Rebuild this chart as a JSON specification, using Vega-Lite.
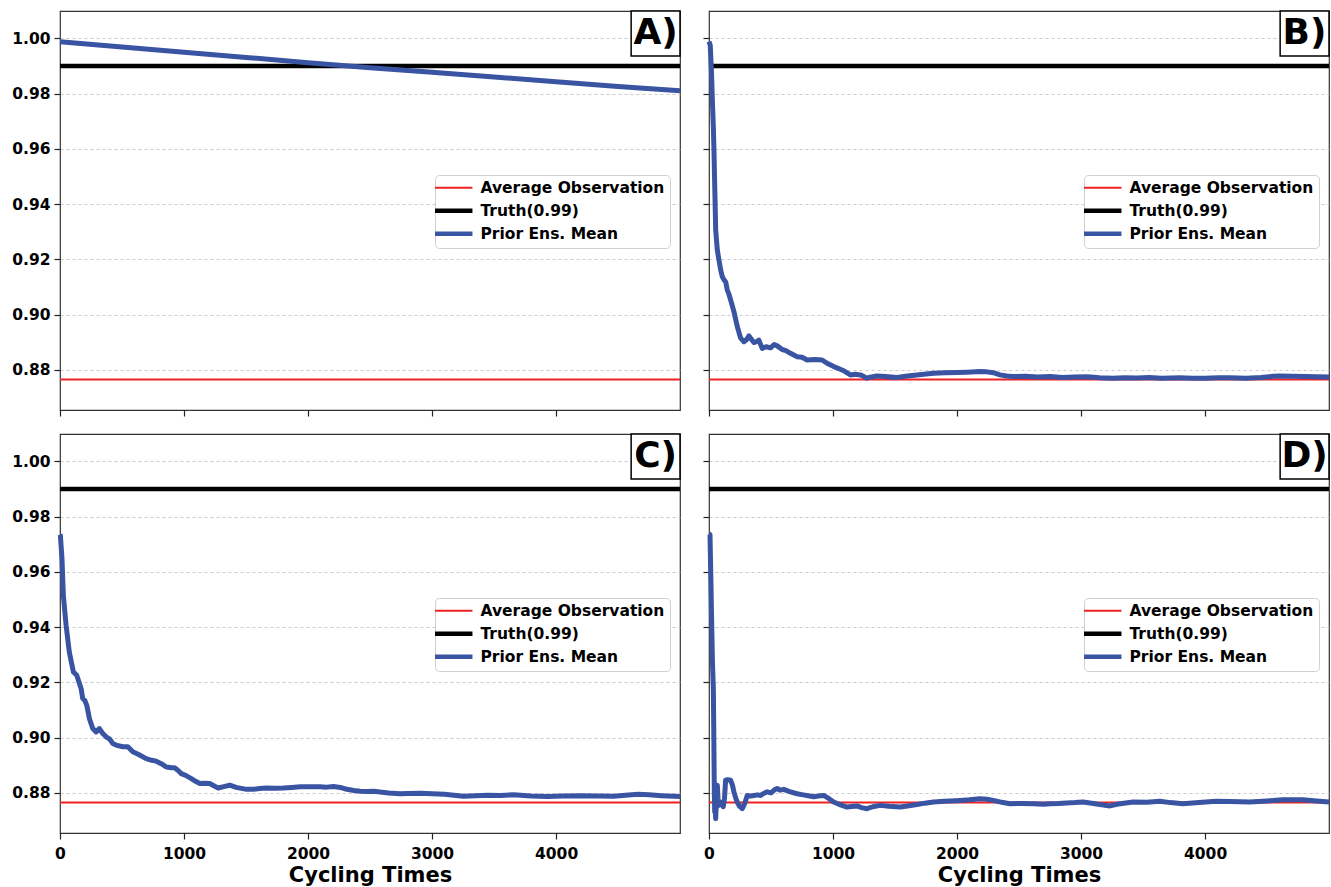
{
  "$schema": "https://vega.github.io/schema/vega-lite/v6.json",
  "padding": {"left": 11, "top": 9, "right": 3, "bottom": 0},
  "background": "#ffffff",
  "config": {
    "font": "DejaVu Sans",
    "view": {"stroke": "#333333", "strokeWidth": 1.2},
    "axis": {
      "labelFont": "DejaVu Sans", "labelFontWeight": "bold", "labelFontSize": 15.5, "labelColor": "#000000",
      "tickColor": "#222222", "tickSize": 6, "tickWidth": 1.2, "domain": false, "labelPadding": 4,
      "titleFont": "DejaVu Sans", "titleFontWeight": "bold", "titleFontSize": 21, "titleColor": "#000000"
    },
    "axisY": {"grid": true, "gridDash": [3, 3], "gridColor": "#bdbdbd", "gridWidth": 0.8},
    "axisX": {"grid": false, "titlePadding": 3, "labelPadding": 7, "labelFlush": false},
    "legend": {"labelLimit": 400}
  },
  "datasets": {
    "refs": [
      {"series": "Average Observation", "v": 0.8765},
      {"series": "Truth(0.99)", "v": 0.99}
    ],
    "lines": [
      {"panel": "A", "t": 0, "v": 0.9988}, {"panel": "A", "t": 500, "v": 0.99685}, {"panel": "A", "t": 1000, "v": 0.995}, {"panel": "A", "t": 1500, "v": 0.9931}, {"panel": "A", "t": 2000, "v": 0.9912}, {"panel": "A", "t": 2500, "v": 0.9894}, {"panel": "A", "t": 3000, "v": 0.9877}, {"panel": "A", "t": 3500, "v": 0.986}, {"panel": "A", "t": 4000, "v": 0.9843}, {"panel": "A", "t": 4500, "v": 0.9826}, {"panel": "A", "t": 4999, "v": 0.981},

      {"panel": "B", "t": 0, "v": 0.9988}, {"panel": "B", "t": 10, "v": 0.9975}, {"panel": "B", "t": 20, "v": 0.988}, {"panel": "B", "t": 27, "v": 0.9777}, {"panel": "B", "t": 35, "v": 0.968}, {"panel": "B", "t": 40, "v": 0.9596}, {"panel": "B", "t": 47, "v": 0.945}, {"panel": "B", "t": 54, "v": 0.9306}, {"panel": "B", "t": 67, "v": 0.9234}, {"panel": "B", "t": 80, "v": 0.9198}, {"panel": "B", "t": 94, "v": 0.9162}, {"panel": "B", "t": 107, "v": 0.9138}, {"panel": "B", "t": 121, "v": 0.9126}, {"panel": "B", "t": 135, "v": 0.9118}, {"panel": "B", "t": 147, "v": 0.909}, {"panel": "B", "t": 160, "v": 0.9075}, {"panel": "B", "t": 174, "v": 0.9054}, {"panel": "B", "t": 201, "v": 0.9011}, {"panel": "B", "t": 228, "v": 0.8957}, {"panel": "B", "t": 255, "v": 0.8915}, {"panel": "B", "t": 282, "v": 0.8902}, {"panel": "B", "t": 300, "v": 0.8908}, {"panel": "B", "t": 322, "v": 0.8923}, {"panel": "B", "t": 340, "v": 0.8912}, {"panel": "B", "t": 362, "v": 0.8899}, {"panel": "B", "t": 385, "v": 0.8903}, {"panel": "B", "t": 402, "v": 0.8908}, {"panel": "B", "t": 429, "v": 0.8878}, {"panel": "B", "t": 460, "v": 0.8884}, {"panel": "B", "t": 496, "v": 0.888}, {"panel": "B", "t": 525, "v": 0.8892}, {"panel": "B", "t": 550, "v": 0.8887}, {"panel": "B", "t": 590, "v": 0.8874}, {"panel": "B", "t": 620, "v": 0.8870}, {"panel": "B", "t": 657, "v": 0.886}, {"panel": "B", "t": 711, "v": 0.8848}, {"panel": "B", "t": 750, "v": 0.8846}, {"panel": "B", "t": 791, "v": 0.8836}, {"panel": "B", "t": 850, "v": 0.8838}, {"panel": "B", "t": 912, "v": 0.8836}, {"panel": "B", "t": 960, "v": 0.8822}, {"panel": "B", "t": 1006, "v": 0.8812}, {"panel": "B", "t": 1040, "v": 0.8806}, {"panel": "B", "t": 1086, "v": 0.8797}, {"panel": "B", "t": 1110, "v": 0.879}, {"panel": "B", "t": 1140, "v": 0.8782}, {"panel": "B", "t": 1180, "v": 0.8784}, {"panel": "B", "t": 1220, "v": 0.8782}, {"panel": "B", "t": 1250, "v": 0.8776}, {"panel": "B", "t": 1274, "v": 0.877}, {"panel": "B", "t": 1300, "v": 0.8774}, {"panel": "B", "t": 1354, "v": 0.8778}, {"panel": "B", "t": 1420, "v": 0.8776}, {"panel": "B", "t": 1515, "v": 0.8773}, {"panel": "B", "t": 1600, "v": 0.8778}, {"panel": "B", "t": 1676, "v": 0.8782}, {"panel": "B", "t": 1750, "v": 0.8785}, {"panel": "B", "t": 1810, "v": 0.8788}, {"panel": "B", "t": 1900, "v": 0.879}, {"panel": "B", "t": 2000, "v": 0.8791}, {"panel": "B", "t": 2078, "v": 0.8792}, {"panel": "B", "t": 2185, "v": 0.8794}, {"panel": "B", "t": 2240, "v": 0.8793}, {"panel": "B", "t": 2293, "v": 0.879}, {"panel": "B", "t": 2346, "v": 0.8782}, {"panel": "B", "t": 2400, "v": 0.8778}, {"panel": "B", "t": 2454, "v": 0.8776}, {"panel": "B", "t": 2550, "v": 0.8777}, {"panel": "B", "t": 2650, "v": 0.8774}, {"panel": "B", "t": 2750, "v": 0.8776}, {"panel": "B", "t": 2850, "v": 0.8773}, {"panel": "B", "t": 2950, "v": 0.8774}, {"panel": "B", "t": 3050, "v": 0.8775}, {"panel": "B", "t": 3150, "v": 0.8772}, {"panel": "B", "t": 3256, "v": 0.877}, {"panel": "B", "t": 3350, "v": 0.8772}, {"panel": "B", "t": 3450, "v": 0.8771}, {"panel": "B", "t": 3550, "v": 0.8773}, {"panel": "B", "t": 3650, "v": 0.877}, {"panel": "B", "t": 3793, "v": 0.8772}, {"panel": "B", "t": 3900, "v": 0.877}, {"panel": "B", "t": 4000, "v": 0.877}, {"panel": "B", "t": 4100, "v": 0.8772}, {"panel": "B", "t": 4200, "v": 0.8772}, {"panel": "B", "t": 4330, "v": 0.877}, {"panel": "B", "t": 4450, "v": 0.8773}, {"panel": "B", "t": 4550, "v": 0.8777}, {"panel": "B", "t": 4598, "v": 0.8778}, {"panel": "B", "t": 4700, "v": 0.8777}, {"panel": "B", "t": 4800, "v": 0.8776}, {"panel": "B", "t": 4900, "v": 0.8775}, {"panel": "B", "t": 4999, "v": 0.8774},

      {"panel": "C", "t": 0, "v": 0.9735}, {"panel": "C", "t": 3, "v": 0.9732}, {"panel": "C", "t": 16, "v": 0.9648}, {"panel": "C", "t": 27, "v": 0.9515}, {"panel": "C", "t": 49, "v": 0.9407}, {"panel": "C", "t": 75, "v": 0.931}, {"panel": "C", "t": 108, "v": 0.9238}, {"panel": "C", "t": 135, "v": 0.9226}, {"panel": "C", "t": 150, "v": 0.9205}, {"panel": "C", "t": 170, "v": 0.9178}, {"panel": "C", "t": 183, "v": 0.9142}, {"panel": "C", "t": 200, "v": 0.9135}, {"panel": "C", "t": 216, "v": 0.9117}, {"panel": "C", "t": 237, "v": 0.9069}, {"panel": "C", "t": 264, "v": 0.9033}, {"panel": "C", "t": 291, "v": 0.9021}, {"panel": "C", "t": 318, "v": 0.9033}, {"panel": "C", "t": 345, "v": 0.9015}, {"panel": "C", "t": 372, "v": 0.9003}, {"panel": "C", "t": 400, "v": 0.8995}, {"panel": "C", "t": 426, "v": 0.8979}, {"panel": "C", "t": 460, "v": 0.8972}, {"panel": "C", "t": 507, "v": 0.8967}, {"panel": "C", "t": 547, "v": 0.8967}, {"panel": "C", "t": 587, "v": 0.8949}, {"panel": "C", "t": 630, "v": 0.894}, {"panel": "C", "t": 695, "v": 0.8924}, {"panel": "C", "t": 740, "v": 0.8918}, {"panel": "C", "t": 776, "v": 0.8915}, {"panel": "C", "t": 820, "v": 0.8905}, {"panel": "C", "t": 857, "v": 0.8894}, {"panel": "C", "t": 900, "v": 0.8891}, {"panel": "C", "t": 924, "v": 0.8891}, {"panel": "C", "t": 950, "v": 0.8882}, {"panel": "C", "t": 978, "v": 0.887}, {"panel": "C", "t": 1020, "v": 0.8862}, {"panel": "C", "t": 1059, "v": 0.8852}, {"panel": "C", "t": 1090, "v": 0.8843}, {"panel": "C", "t": 1127, "v": 0.8834}, {"panel": "C", "t": 1170, "v": 0.8835}, {"panel": "C", "t": 1207, "v": 0.8834}, {"panel": "C", "t": 1240, "v": 0.8826}, {"panel": "C", "t": 1275, "v": 0.8818}, {"panel": "C", "t": 1320, "v": 0.8823}, {"panel": "C", "t": 1369, "v": 0.8828}, {"panel": "C", "t": 1420, "v": 0.882}, {"panel": "C", "t": 1504, "v": 0.8813}, {"panel": "C", "t": 1558, "v": 0.8813}, {"panel": "C", "t": 1610, "v": 0.8816}, {"panel": "C", "t": 1665, "v": 0.8818}, {"panel": "C", "t": 1730, "v": 0.8817}, {"panel": "C", "t": 1800, "v": 0.8818}, {"panel": "C", "t": 1870, "v": 0.882}, {"panel": "C", "t": 1935, "v": 0.8822}, {"panel": "C", "t": 2000, "v": 0.8822}, {"panel": "C", "t": 2097, "v": 0.8822}, {"panel": "C", "t": 2150, "v": 0.8821}, {"panel": "C", "t": 2205, "v": 0.8823}, {"panel": "C", "t": 2260, "v": 0.882}, {"panel": "C", "t": 2313, "v": 0.8813}, {"panel": "C", "t": 2370, "v": 0.8809}, {"panel": "C", "t": 2421, "v": 0.8806}, {"panel": "C", "t": 2480, "v": 0.8805}, {"panel": "C", "t": 2528, "v": 0.8806}, {"panel": "C", "t": 2581, "v": 0.8803}, {"panel": "C", "t": 2650, "v": 0.88}, {"panel": "C", "t": 2744, "v": 0.8797}, {"panel": "C", "t": 2800, "v": 0.8798}, {"panel": "C", "t": 2904, "v": 0.8799}, {"panel": "C", "t": 3000, "v": 0.8797}, {"panel": "C", "t": 3100, "v": 0.8795}, {"panel": "C", "t": 3253, "v": 0.8788}, {"panel": "C", "t": 3350, "v": 0.879}, {"panel": "C", "t": 3450, "v": 0.8792}, {"panel": "C", "t": 3550, "v": 0.8791}, {"panel": "C", "t": 3656, "v": 0.8793}, {"panel": "C", "t": 3800, "v": 0.8789}, {"panel": "C", "t": 3930, "v": 0.8787}, {"panel": "C", "t": 4050, "v": 0.8789}, {"panel": "C", "t": 4200, "v": 0.879}, {"panel": "C", "t": 4350, "v": 0.8789}, {"panel": "C", "t": 4465, "v": 0.8788}, {"panel": "C", "t": 4560, "v": 0.8792}, {"panel": "C", "t": 4659, "v": 0.8795}, {"panel": "C", "t": 4750, "v": 0.8793}, {"panel": "C", "t": 4850, "v": 0.879}, {"panel": "C", "t": 4999, "v": 0.8787},

      {"panel": "D", "t": 0, "v": 0.9738}, {"panel": "D", "t": 8, "v": 0.9735}, {"panel": "D", "t": 14, "v": 0.96}, {"panel": "D", "t": 21, "v": 0.9431}, {"panel": "D", "t": 28, "v": 0.927}, {"panel": "D", "t": 35, "v": 0.9178}, {"panel": "D", "t": 38, "v": 0.905}, {"panel": "D", "t": 40, "v": 0.8948}, {"panel": "D", "t": 43, "v": 0.88}, {"panel": "D", "t": 46, "v": 0.8731}, {"panel": "D", "t": 50, "v": 0.8765}, {"panel": "D", "t": 54, "v": 0.8707}, {"panel": "D", "t": 58, "v": 0.875}, {"panel": "D", "t": 62, "v": 0.879}, {"panel": "D", "t": 67, "v": 0.8828}, {"panel": "D", "t": 73, "v": 0.878}, {"panel": "D", "t": 80, "v": 0.8755}, {"panel": "D", "t": 90, "v": 0.876}, {"panel": "D", "t": 100, "v": 0.8765}, {"panel": "D", "t": 107, "v": 0.8767}, {"panel": "D", "t": 115, "v": 0.875}, {"panel": "D", "t": 125, "v": 0.878}, {"panel": "D", "t": 134, "v": 0.8846}, {"panel": "D", "t": 150, "v": 0.8848}, {"panel": "D", "t": 174, "v": 0.8846}, {"panel": "D", "t": 188, "v": 0.883}, {"panel": "D", "t": 201, "v": 0.8804}, {"panel": "D", "t": 215, "v": 0.8782}, {"panel": "D", "t": 228, "v": 0.8767}, {"panel": "D", "t": 245, "v": 0.8752}, {"panel": "D", "t": 268, "v": 0.8743}, {"panel": "D", "t": 288, "v": 0.8762}, {"panel": "D", "t": 308, "v": 0.8791}, {"panel": "D", "t": 335, "v": 0.8789}, {"panel": "D", "t": 362, "v": 0.8791}, {"panel": "D", "t": 390, "v": 0.8793}, {"panel": "D", "t": 416, "v": 0.8791}, {"panel": "D", "t": 440, "v": 0.8798}, {"panel": "D", "t": 469, "v": 0.8804}, {"panel": "D", "t": 500, "v": 0.88}, {"panel": "D", "t": 530, "v": 0.8812}, {"panel": "D", "t": 550, "v": 0.8816}, {"panel": "D", "t": 575, "v": 0.881}, {"panel": "D", "t": 603, "v": 0.8813}, {"panel": "D", "t": 650, "v": 0.8805}, {"panel": "D", "t": 710, "v": 0.8797}, {"panel": "D", "t": 760, "v": 0.8793}, {"panel": "D", "t": 800, "v": 0.879}, {"panel": "D", "t": 845, "v": 0.8786}, {"panel": "D", "t": 880, "v": 0.8789}, {"panel": "D", "t": 925, "v": 0.8791}, {"panel": "D", "t": 965, "v": 0.878}, {"panel": "D", "t": 1005, "v": 0.8767}, {"panel": "D", "t": 1060, "v": 0.8757}, {"panel": "D", "t": 1113, "v": 0.8749}, {"panel": "D", "t": 1150, "v": 0.8751}, {"panel": "D", "t": 1193, "v": 0.8753}, {"panel": "D", "t": 1230, "v": 0.8747}, {"panel": "D", "t": 1274, "v": 0.8743}, {"panel": "D", "t": 1320, "v": 0.875}, {"panel": "D", "t": 1381, "v": 0.8755}, {"panel": "D", "t": 1450, "v": 0.8752}, {"panel": "D", "t": 1542, "v": 0.8749}, {"panel": "D", "t": 1600, "v": 0.8753}, {"panel": "D", "t": 1676, "v": 0.8758}, {"panel": "D", "t": 1740, "v": 0.8763}, {"panel": "D", "t": 1810, "v": 0.8767}, {"panel": "D", "t": 1900, "v": 0.877}, {"panel": "D", "t": 2024, "v": 0.8773}, {"panel": "D", "t": 2100, "v": 0.8775}, {"panel": "D", "t": 2185, "v": 0.8779}, {"panel": "D", "t": 2240, "v": 0.8777}, {"panel": "D", "t": 2293, "v": 0.8773}, {"panel": "D", "t": 2360, "v": 0.8766}, {"panel": "D", "t": 2427, "v": 0.8761}, {"panel": "D", "t": 2520, "v": 0.8762}, {"panel": "D", "t": 2614, "v": 0.8761}, {"panel": "D", "t": 2700, "v": 0.8759}, {"panel": "D", "t": 2749, "v": 0.8761}, {"panel": "D", "t": 2820, "v": 0.8762}, {"panel": "D", "t": 2882, "v": 0.8764}, {"panel": "D", "t": 2950, "v": 0.8765}, {"panel": "D", "t": 3017, "v": 0.8767}, {"panel": "D", "t": 3100, "v": 0.8762}, {"panel": "D", "t": 3180, "v": 0.8756}, {"panel": "D", "t": 3232, "v": 0.8753}, {"panel": "D", "t": 3300, "v": 0.876}, {"panel": "D", "t": 3420, "v": 0.8767}, {"panel": "D", "t": 3530, "v": 0.8766}, {"panel": "D", "t": 3634, "v": 0.877}, {"panel": "D", "t": 3720, "v": 0.8765}, {"panel": "D", "t": 3821, "v": 0.8761}, {"panel": "D", "t": 3950, "v": 0.8765}, {"panel": "D", "t": 4090, "v": 0.877}, {"panel": "D", "t": 4200, "v": 0.8769}, {"panel": "D", "t": 4358, "v": 0.8767}, {"panel": "D", "t": 4500, "v": 0.8771}, {"panel": "D", "t": 4626, "v": 0.8775}, {"panel": "D", "t": 4787, "v": 0.8775}, {"panel": "D", "t": 4900, "v": 0.8771}, {"panel": "D", "t": 4999, "v": 0.8767}
    ]
  },
  "columns": 2,
  "spacing": {"row": 14, "column": 17},
  "resolve": {
    "scale": {"color": "independent", "x": "independent", "y": "independent"},
    "legend": {"color": "independent"}
  },
  "concat": [
    {
      "width": 620, "height": 399,
      "layer": [
        {"data": {"name": "refs"}, "mark": {"type": "rule"},
         "encoding": {
           "y": {"field": "v", "type": "quantitative", "scale": {"domain": [0.8655, 1.0099], "nice": false, "zero": false}, "axis": {"title": null, "values": [0.88, 0.9, 0.92, 0.94, 0.96, 0.98, 1.0], "format": ".2f", "labels": true}},
           "color": {"field": "series", "type": "nominal", "scale": {"domain": ["Average Observation", "Truth(0.99)", "Prior Ens. Mean"], "range": ["#ee2222", "#000000", "#3a54a4"]},
             "legend": {"title": null, "orient": "none", "legendX": 375, "legendY": 164, "symbolType": "stroke", "symbolSize": 1400, "symbolStrokeWidth": 4.5, "symbolOffset": 6, "labelFontSize": 15.5, "labelFont": "DejaVu Sans", "labelFontWeight": "bold", "labelColor": "#000000", "labelLimit": 400, "fillColor": "#ffffff", "strokeColor": "#d0d0d0", "cornerRadius": 4, "padding": 5, "rowPadding": 4, "labelOffset": 19,
               "encode": {"symbols": {"update": {"strokeWidth": {"signal": "datum.value === 'Average Observation' ? 2 : 4.5"}}}}}},
           "strokeWidth": {"condition": {"test": "datum.series === 'Truth(0.99)'", "value": 4.5}, "value": 2}
         }},
        {"data": {"name": "lines"}, "transform": [{"filter": "datum.panel === 'A'"}],
         "mark": {"type": "line", "strokeWidth": 5, "strokeJoin": "round"},
         "encoding": {
           "x": {"field": "t", "type": "quantitative", "scale": {"domain": [0, 4999], "nice": false, "zero": false}, "axis": {"title": null, "values": [0, 1000, 2000, 3000, 4000], "labels": false}},
           "y": {"field": "v", "type": "quantitative"},
           "color": {"datum": "Prior Ens. Mean", "type": "nominal"}
         }},
        {"data": {"values": [{"label": "A)"}]}, "mark": {"type": "rect", "fill": "#ffffff", "stroke": "#000000", "strokeWidth": 1.5},
         "encoding": {"x": {"datum": 4605}, "x2": {"datum": 4999}, "y": {"datum": 0.9936}, "y2": {"datum": 1.0099}}},
        {"data": {"values": [{"label": "A)"}]}, "mark": {"type": "text", "fontSize": 36, "fontWeight": "bold", "font": "DejaVu Sans", "align": "center", "baseline": "middle", "color": "#000000"},
         "encoding": {"x": {"datum": 4802}, "y": {"datum": 1.0018}, "text": {"field": "label"}}}
      ]
    },
    {
      "width": 620, "height": 399,
      "layer": [
        {"data": {"name": "refs"}, "mark": {"type": "rule"},
         "encoding": {
           "y": {"field": "v", "type": "quantitative", "scale": {"domain": [0.8655, 1.0099], "nice": false, "zero": false}, "axis": {"title": null, "values": [0.88, 0.9, 0.92, 0.94, 0.96, 0.98, 1.0], "format": ".2f", "labels": false}},
           "color": {"field": "series", "type": "nominal", "scale": {"domain": ["Average Observation", "Truth(0.99)", "Prior Ens. Mean"], "range": ["#ee2222", "#000000", "#3a54a4"]},
             "legend": {"title": null, "orient": "none", "legendX": 375, "legendY": 164, "symbolType": "stroke", "symbolSize": 1400, "symbolStrokeWidth": 4.5, "symbolOffset": 6, "labelFontSize": 15.5, "labelFont": "DejaVu Sans", "labelFontWeight": "bold", "labelColor": "#000000", "labelLimit": 400, "fillColor": "#ffffff", "strokeColor": "#d0d0d0", "cornerRadius": 4, "padding": 5, "rowPadding": 4, "labelOffset": 19,
               "encode": {"symbols": {"update": {"strokeWidth": {"signal": "datum.value === 'Average Observation' ? 2 : 4.5"}}}}}},
           "strokeWidth": {"condition": {"test": "datum.series === 'Truth(0.99)'", "value": 4.5}, "value": 2}
         }},
        {"data": {"name": "lines"}, "transform": [{"filter": "datum.panel === 'B'"}],
         "mark": {"type": "line", "strokeWidth": 5, "strokeJoin": "round"},
         "encoding": {
           "x": {"field": "t", "type": "quantitative", "scale": {"domain": [0, 4999], "nice": false, "zero": false}, "axis": {"title": null, "values": [0, 1000, 2000, 3000, 4000], "labels": false}},
           "y": {"field": "v", "type": "quantitative"},
           "color": {"datum": "Prior Ens. Mean", "type": "nominal"}
         }},
        {"data": {"values": [{"label": "B)"}]}, "mark": {"type": "rect", "fill": "#ffffff", "stroke": "#000000", "strokeWidth": 1.5},
         "encoding": {"x": {"datum": 4605}, "x2": {"datum": 4999}, "y": {"datum": 0.9936}, "y2": {"datum": 1.0099}}},
        {"data": {"values": [{"label": "B)"}]}, "mark": {"type": "text", "fontSize": 36, "fontWeight": "bold", "font": "DejaVu Sans", "align": "center", "baseline": "middle", "color": "#000000"},
         "encoding": {"x": {"datum": 4802}, "y": {"datum": 1.0018}, "text": {"field": "label"}}}
      ]
    },
    {
      "width": 620, "height": 399,
      "layer": [
        {"data": {"name": "refs"}, "mark": {"type": "rule"},
         "encoding": {
           "y": {"field": "v", "type": "quantitative", "scale": {"domain": [0.8655, 1.0099], "nice": false, "zero": false}, "axis": {"title": null, "values": [0.88, 0.9, 0.92, 0.94, 0.96, 0.98, 1.0], "format": ".2f", "labels": true}},
           "color": {"field": "series", "type": "nominal", "scale": {"domain": ["Average Observation", "Truth(0.99)", "Prior Ens. Mean"], "range": ["#ee2222", "#000000", "#3a54a4"]},
             "legend": {"title": null, "orient": "none", "legendX": 375, "legendY": 164, "symbolType": "stroke", "symbolSize": 1400, "symbolStrokeWidth": 4.5, "symbolOffset": 6, "labelFontSize": 15.5, "labelFont": "DejaVu Sans", "labelFontWeight": "bold", "labelColor": "#000000", "labelLimit": 400, "fillColor": "#ffffff", "strokeColor": "#d0d0d0", "cornerRadius": 4, "padding": 5, "rowPadding": 4, "labelOffset": 19,
               "encode": {"symbols": {"update": {"strokeWidth": {"signal": "datum.value === 'Average Observation' ? 2 : 4.5"}}}}}},
           "strokeWidth": {"condition": {"test": "datum.series === 'Truth(0.99)'", "value": 4.5}, "value": 2}
         }},
        {"data": {"name": "lines"}, "transform": [{"filter": "datum.panel === 'C'"}],
         "mark": {"type": "line", "strokeWidth": 5, "strokeJoin": "round"},
         "encoding": {
           "x": {"field": "t", "type": "quantitative", "scale": {"domain": [0, 4999], "nice": false, "zero": false}, "axis": {"title": "Cycling Times", "values": [0, 1000, 2000, 3000, 4000], "format": "d", "labels": true}},
           "y": {"field": "v", "type": "quantitative"},
           "color": {"datum": "Prior Ens. Mean", "type": "nominal"}
         }},
        {"data": {"values": [{"label": "C)"}]}, "mark": {"type": "rect", "fill": "#ffffff", "stroke": "#000000", "strokeWidth": 1.5},
         "encoding": {"x": {"datum": 4605}, "x2": {"datum": 4999}, "y": {"datum": 0.9936}, "y2": {"datum": 1.0099}}},
        {"data": {"values": [{"label": "C)"}]}, "mark": {"type": "text", "fontSize": 36, "fontWeight": "bold", "font": "DejaVu Sans", "align": "center", "baseline": "middle", "color": "#000000"},
         "encoding": {"x": {"datum": 4802}, "y": {"datum": 1.0018}, "text": {"field": "label"}}}
      ]
    },
    {
      "width": 620, "height": 399,
      "layer": [
        {"data": {"name": "refs"}, "mark": {"type": "rule"},
         "encoding": {
           "y": {"field": "v", "type": "quantitative", "scale": {"domain": [0.8655, 1.0099], "nice": false, "zero": false}, "axis": {"title": null, "values": [0.88, 0.9, 0.92, 0.94, 0.96, 0.98, 1.0], "format": ".2f", "labels": false}},
           "color": {"field": "series", "type": "nominal", "scale": {"domain": ["Average Observation", "Truth(0.99)", "Prior Ens. Mean"], "range": ["#ee2222", "#000000", "#3a54a4"]},
             "legend": {"title": null, "orient": "none", "legendX": 375, "legendY": 164, "symbolType": "stroke", "symbolSize": 1400, "symbolStrokeWidth": 4.5, "symbolOffset": 6, "labelFontSize": 15.5, "labelFont": "DejaVu Sans", "labelFontWeight": "bold", "labelColor": "#000000", "labelLimit": 400, "fillColor": "#ffffff", "strokeColor": "#d0d0d0", "cornerRadius": 4, "padding": 5, "rowPadding": 4, "labelOffset": 19,
               "encode": {"symbols": {"update": {"strokeWidth": {"signal": "datum.value === 'Average Observation' ? 2 : 4.5"}}}}}},
           "strokeWidth": {"condition": {"test": "datum.series === 'Truth(0.99)'", "value": 4.5}, "value": 2}
         }},
        {"data": {"name": "lines"}, "transform": [{"filter": "datum.panel === 'D'"}],
         "mark": {"type": "line", "strokeWidth": 5, "strokeJoin": "round"},
         "encoding": {
           "x": {"field": "t", "type": "quantitative", "scale": {"domain": [0, 4999], "nice": false, "zero": false}, "axis": {"title": "Cycling Times", "values": [0, 1000, 2000, 3000, 4000], "format": "d", "labels": true}},
           "y": {"field": "v", "type": "quantitative"},
           "color": {"datum": "Prior Ens. Mean", "type": "nominal"}
         }},
        {"data": {"values": [{"label": "D)"}]}, "mark": {"type": "rect", "fill": "#ffffff", "stroke": "#000000", "strokeWidth": 1.5},
         "encoding": {"x": {"datum": 4605}, "x2": {"datum": 4999}, "y": {"datum": 0.9936}, "y2": {"datum": 1.0099}}},
        {"data": {"values": [{"label": "D)"}]}, "mark": {"type": "text", "fontSize": 36, "fontWeight": "bold", "font": "DejaVu Sans", "align": "center", "baseline": "middle", "color": "#000000"},
         "encoding": {"x": {"datum": 4802}, "y": {"datum": 1.0018}, "text": {"field": "label"}}}
      ]
    }
  ]
}
